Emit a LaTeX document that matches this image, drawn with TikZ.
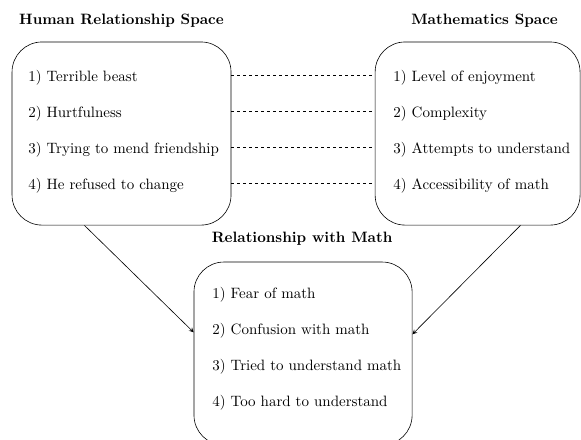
\documentclass[tikz,border=0pt]{standalone}
\usepackage{amsmath,amssymb}
\usepackage{tikz}

\tikzset{
    spacebox/.style={draw, rounded corners=20pt, inner sep=0pt},
    item/.style={anchor=west, inner sep=0pt, text height=2ex, text depth=0pt},
    heading/.style={font=\bfseries, inner sep=0pt},
    link/.style={dash pattern=on 2pt off 2pt},
}

\begin{document}
\begin{tikzpicture}[>=stealth]
            \useasboundingbox (0, 0) rectangle (13.61, -10.29);

            \node[spacebox, minimum width=5.13cm, minimum height=4.29cm] (human) at (2.847, -3.128) {};
            \node[spacebox, minimum width=4.80cm, minimum height=4.29cm] (math) at (11.188, -3.128) {};
            \node[spacebox, minimum width=5.11cm, minimum height=4.29cm] (rel) at (7.099, -8.283) {};

            \node[heading] (humanTitle) at (2.847, -0.492) {Human Relationship Space};
            \node[heading] (mathTitle) at (11.352, -0.492) {Mathematics Space};
            \node[heading] (relTitle) at (7.076, -5.600) {Relationship with Math};

            \node[item] (H1) at (0.656, -1.757) {1) Terrible beast};
            \node[item] (H2) at (0.656, -2.603) {2) Hurtfulness};
            \node[item] (H3) at (0.656, -3.449) {3) Trying to mend friendship};
            \node[item] (H4) at (0.656, -4.295) {4) He refused to change};

            \node[item] (M1) at (9.208, -1.757) {1) Level of enjoyment};
            \node[item] (M2) at (9.208, -2.603) {2) Complexity};
            \node[item] (M3) at (9.208, -3.449) {3) Attempts to understand};
            \node[item] (M4) at (9.208, -4.295) {4) Accessibility of math};

            \node[item] (R1) at (4.967, -6.842) {1) Fear of math};
            \node[item] (R2) at (4.967, -7.688) {2) Confusion with math};
            \node[item] (R3) at (4.967, -8.534) {3) Tried to understand math};
            \node[item] (R4) at (4.967, -9.380) {4) Too hard to understand};

            \draw[link] (H1 -| human.east) -- (M1 -| math.west);
            \draw[link] (H2 -| human.east) -- (M2 -| math.west);
            \draw[link] (H3 -| human.east) -- (M3 -| math.west);
            \draw[link] (H4 -| human.east) -- (M4 -| math.west);

            \draw[->] (human.248.3) -- (rel.169.4);
            \draw[->] (math.295.4) -- (rel.10.6);

        \end{tikzpicture}
\end{document}
